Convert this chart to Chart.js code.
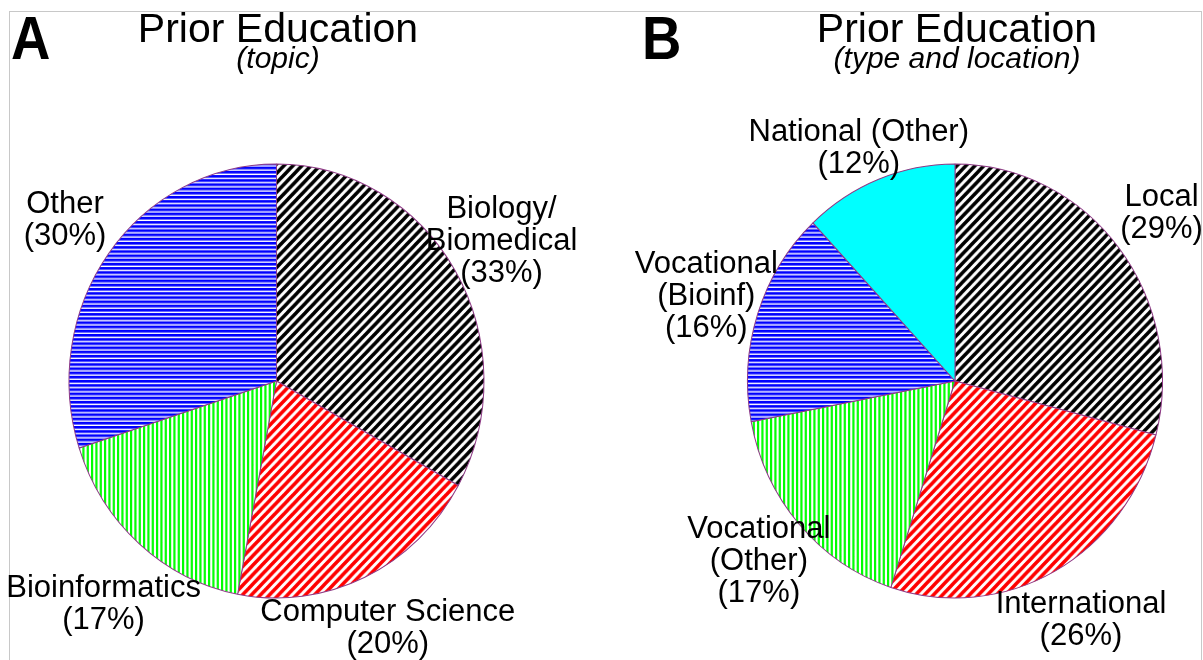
<!DOCTYPE html>
<html>
<head>
<meta charset="utf-8">
<script src="https://cdn.jsdelivr.net/npm/chart.js@4.4.1/dist/chart.umd.min.js"></script>
<style>
  body { margin: 0; background: #fff; }
  #frame { position: absolute; left: 9px; top: 11px; width: 1191px; height: 660px;
           border: 1px solid #c8c8c8; border-bottom: none; }
  .panel { position: absolute; top: 0; width: 601px; height: 660px; }
</style>
</head>
<body>
<div id="frame"></div>
<div class="panel" style="left:0"><canvas id="canvasA"></canvas></div>
<div class="panel" style="left:601px"><canvas id="canvasB"></canvas></div>
<script>
// Graph A - topic
var topicLabels = ["Biology/\nBiomedical", "Computer Science", "Bioinformatics", "Other"];
var topicValues = [33, 20, 17, 30];

// Graph B - type and location
var typeLabels = ["Local", "International", "Vocational\n(Other)", "Vocational\n(Bioinf)", "National (Other)"];
var typeValues = [29, 26, 17, 16, 12];

var FONT = "'Liberation Sans', Arial, Helvetica, sans-serif";
var STRETCH = 217 / 207.5; // pie is a bit taller than wide

function hatch(color, kind) {
  var c = document.createElement("canvas");
  var s = kind == "diag" ? 9 : kind == "vert" ? 13 : 4;
  c.width = s; c.height = s;
  var g = c.getContext("2d");
  g.fillStyle = "#fff";
  g.fillRect(0, 0, s, s);
  g.strokeStyle = color;
  g.fillStyle = color;
  if (kind == "diag") {
    g.lineWidth = 3.4;
    g.beginPath();
    g.moveTo(-1, s + 1); g.lineTo(s + 1, -1);
    g.moveTo(-2, 2); g.lineTo(2, -2);
    g.moveTo(s - 2, s + 2); g.lineTo(s + 2, s - 2);
    g.stroke();
  } else if (kind == "vert") {
    g.fillRect(0, 0, 2.2, s);
    g.fillRect(4.33, 0, 2.2, s);
    g.fillRect(8.67, 0, 2.2, s);
  } else {
    g.fillRect(0, 0, s, 2.6);
  }
  return g.createPattern(c, "repeat");
}

var stretchPlugin = {
  id: "stretch",
  beforeDatasetsDraw: function (chart) {
    var arc = chart.getDatasetMeta(0).data[0];
    var ctx = chart.ctx;
    ctx.save();
    ctx.translate(arc.x, arc.y);
    ctx.scale(1, STRETCH);
    ctx.translate(-arc.x, -arc.y);
  },
  afterDatasetsDraw: function (chart) {
    chart.ctx.restore();
  }
};

var textPlugin = {
  id: "texts",
  afterDraw: function (chart, args, opts) {
    var ctx = chart.ctx;
    ctx.save();
    ctx.fillStyle = "#000";

    // panel letter
    ctx.save();
    ctx.translate(opts.letterX, 59);
    ctx.scale(0.88, 1);
    ctx.font = "bold 62px " + FONT;
    ctx.textAlign = "left";
    ctx.textBaseline = "alphabetic";
    ctx.fillText(opts.letter, 0, 0);
    ctx.restore();

    // title + subtitle
    ctx.textAlign = "center";
    ctx.textBaseline = "alphabetic";
    ctx.font = "41px " + FONT;
    ctx.fillText("Prior Education", opts.titleX, 42);
    ctx.font = "italic 30px " + FONT;
    ctx.fillText(opts.subtitle, opts.titleX, 68);

    // slice labels, centred a bit outside the rim
    var meta = chart.getDatasetMeta(0);
    var labels = chart.data.labels;
    var values = chart.data.datasets[0].data;
    var nudge = opts.nudge || {};
    ctx.font = "31px " + FONT;
    ctx.textBaseline = "middle";
    meta.data.forEach(function (arc, i) {
      var mid = (arc.startAngle + arc.endAngle) / 2;
      var r = arc.outerRadius * 1.26;
      var x = arc.x + r * Math.cos(mid);
      var y = arc.y + r * STRETCH * Math.sin(mid) + (nudge[i] || 0);
      var lines = labels[i].split("\n").concat(["(" + values[i] + "%)"]);
      var lh = 32;
      lines.forEach(function (t, j) {
        ctx.fillText(t, x, y + (j - (lines.length - 1) / 2) * lh);
      });
    });
    ctx.restore();
  }
};

function makePie(id, labels, values, colors, padding, texts) {
  var ctx = document.getElementById(id).getContext("2d");
  return new Chart(ctx, {
    type: "pie",
    data: {
      labels: labels,
      datasets: [
        {
          data: values,
          backgroundColor: colors,
          borderColor: "#8e3a86",
          borderWidth: 1,
        },
      ],
    },
    options: {
      responsive: true,
      maintainAspectRatio: false,
      animation: false,
      events: [],
      layout: { padding: padding },
      plugins: {
        legend: { display: false },
        tooltip: { enabled: false },
        texts: texts,
      },
    },
    plugins: [stretchPlugin, textPlugin],
  });
}

var chartA = makePie(
  "canvasA",
  topicLabels,
  topicValues,
  [hatch("#000", "diag"), hatch("#ff0000", "diag"), hatch("#00ff00", "vert"), hatch("#0000ff", "horiz")],
  { left: 68.5, right: 116.5, top: 173, bottom: 71 },
  { letter: "A", letterX: 11, titleX: 278, subtitle: "(topic)", nudge: { 2: 18 } }
);

var chartB = makePie(
  "canvasB",
  typeLabels,
  typeValues,
  [hatch("#000", "diag"), hatch("#ff0000", "diag"), hatch("#00ff00", "vert"), hatch("#0000ff", "horiz"), "#00ffff"],
  { left: 146, right: 39, top: 173, bottom: 71 },
  { letter: "B", letterX: 41, titleX: 356, subtitle: "(type and location)", nudge: { 4: 22 } }
);
</script>
</body>
</html>
